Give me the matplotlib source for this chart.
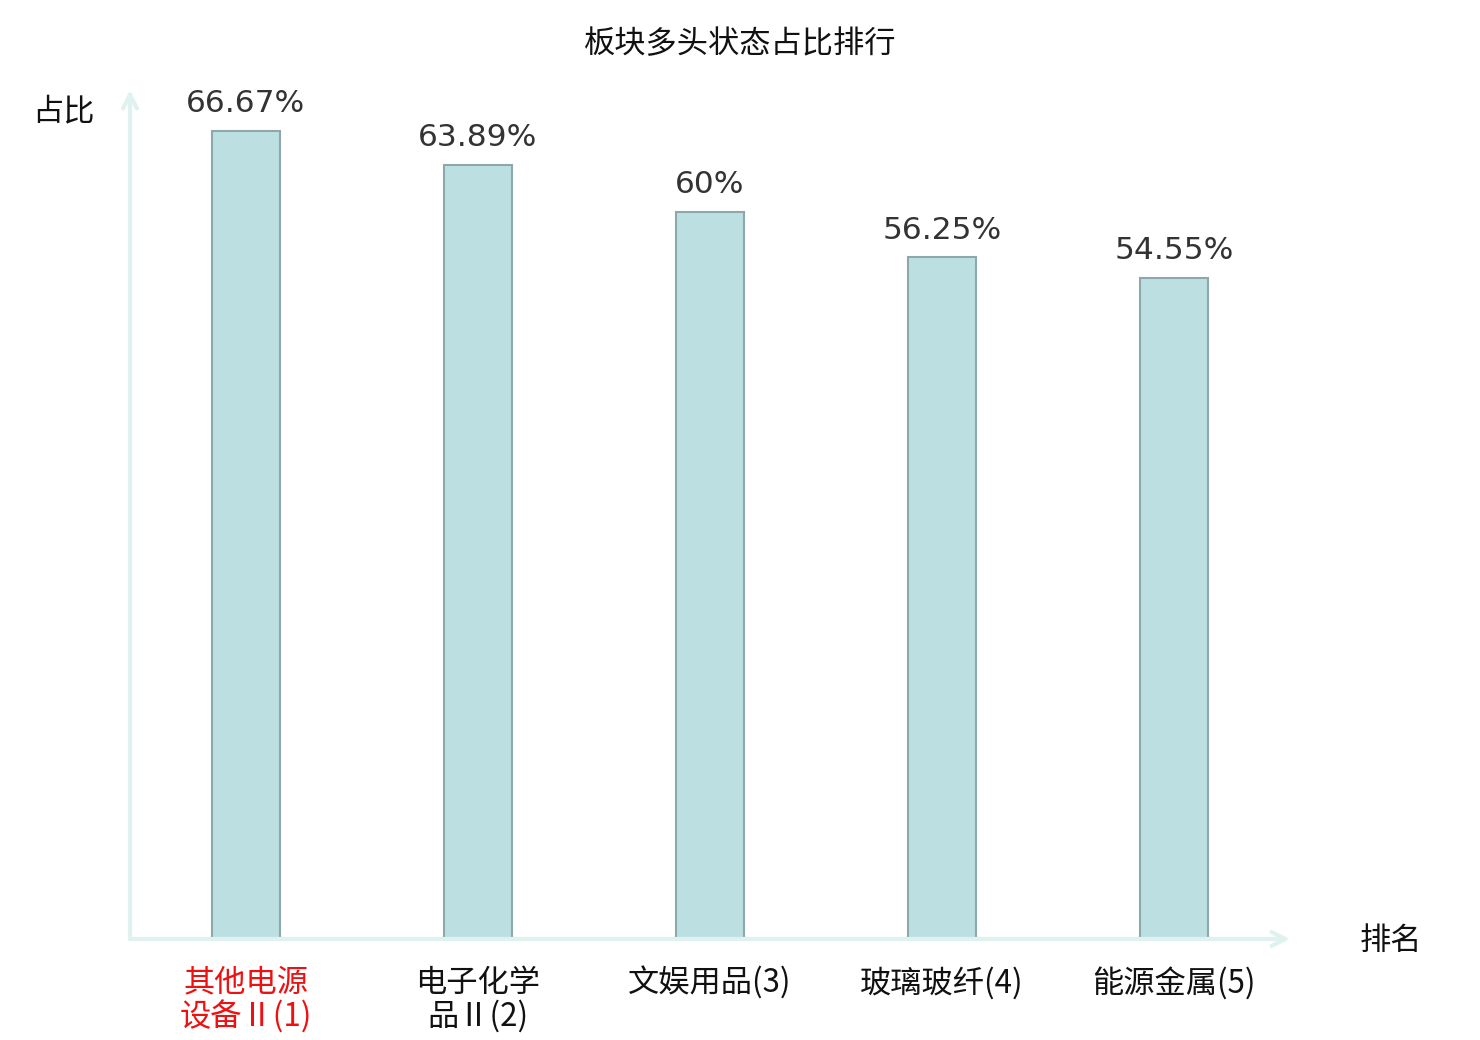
import matplotlib
matplotlib.use("Agg")
import matplotlib.pyplot as plt

categories = ["其他电源\n设备Ⅱ(1)", "电子化学\n品Ⅱ(2)", "文娱用品(3)", "玻璃玻纤(4)", "能源金属(5)"]
values = [66.67, 63.89, 60, 56.25, 54.55]
value_labels = ["66.67%", "63.89%", "60%", "56.25%", "54.55%"]
label_colors = ["#ee1111", "#111111", "#111111", "#111111", "#111111"]

plt.rcParams['font.family'] = ['Noto Sans CJK SC', 'DejaVu Sans']

fig = plt.figure(figsize=(14.8, 10.4), dpi=100)
ax = fig.add_axes([130/1480, 101/1040, 1160/1480, 849/1040])
x = list(range(len(categories)))
ax.bar(x, values, width=0.293, color="#bce0e2", edgecolor="#8ea7aa", linewidth=1.5, zorder=3)
ax.set_xlim(-0.5, 4.5)
ax.set_ylim(0, 70.05)
for s in ax.spines.values():
    s.set_visible(False)
ax.set_yticks([])
ax.set_xticks(x)
ax.set_xticklabels(categories, fontsize=22.5, linespacing=1.05)
for lbl, c in zip(ax.get_xticklabels(), label_colors):
    lbl.set_color(c)
ax.tick_params(axis='x', length=0, pad=20)

axis_color = "#dff2ef"
ax.annotate("", xy=(1.0, 0), xytext=(0, 0), xycoords='axes fraction',
            arrowprops=dict(arrowstyle="->,head_length=1.0,head_width=0.5", color=axis_color, lw=3, shrinkA=0, shrinkB=0))
ax.annotate("", xy=(0, 1.0), xytext=(0, 0), xycoords='axes fraction',
            arrowprops=dict(arrowstyle="->,head_length=1.0,head_width=0.5", color=axis_color, lw=3, shrinkA=0, shrinkB=0))

for xi, v, t in zip(x, values, value_labels):
    ax.annotate(t, xy=(xi, v), xytext=(0, 9), textcoords='offset points',
                ha='center', va='bottom', fontsize=22.5, color="#333333",
                family=['DejaVu Sans'])

fig.text(740/1480, 1 - 44/1040, "板块多头状态占比排行", ha='center', va='center', fontsize=22.5, color="#111111")
fig.text(63/1480, 1 - 111/1040, "占比", ha='center', va='center', fontsize=22.5, color="#111111")
fig.text(1391/1480, 1 - 941/1040, "排名", ha='center', va='center', fontsize=22.5, color="#111111")

fig.savefig("out.png", dpi=100)
